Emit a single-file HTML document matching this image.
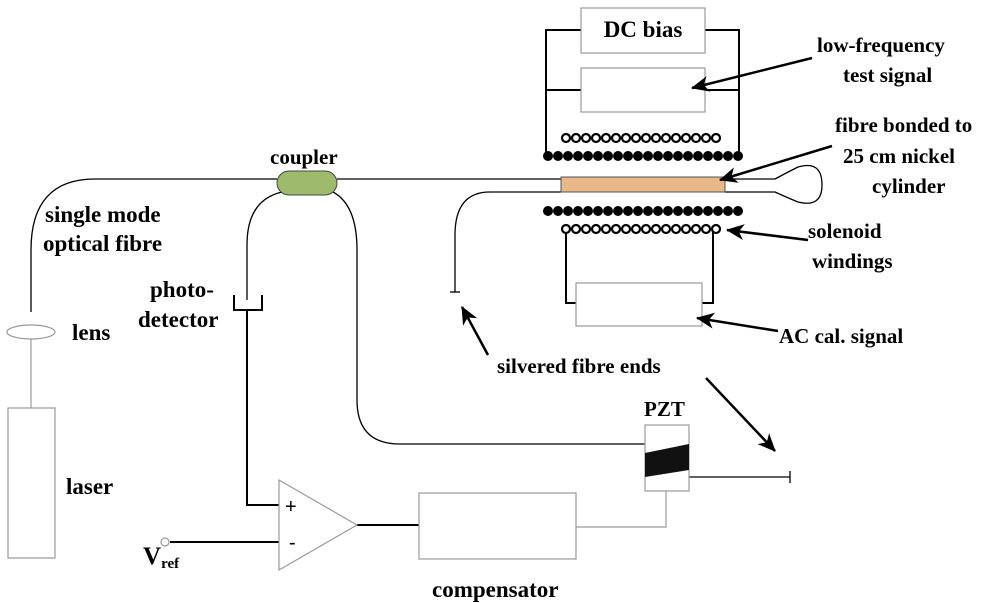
<!DOCTYPE html>
<html><head><meta charset="utf-8"><style>
html,body{margin:0;padding:0;background:#fff;}
svg{display:block;}
text{font-family:"Liberation Serif",serif;font-weight:bold;font-size:21px;fill:#000;}
.b{font-size:23px;}
</style></head><body>
<svg width="1000" height="603" viewBox="0 0 1000 603" xmlns="http://www.w3.org/2000/svg">
<defs>
<marker id="ah2" markerWidth="18" markerHeight="16" refX="17" refY="8" orient="auto" markerUnits="userSpaceOnUse" viewBox="0 0 18 16">
<path d="M0,0 L18,8 L0,16 L5,8 z" fill="#000"/></marker>
</defs>
<g fill="none" stroke="#000" stroke-width="1.3">
<path d="M277,179 L95,179 Q31,179 31,250 L31,312"/>
<path d="M337,179 L561,179"/>
<path d="M282,192 Q247,200 247,245 L247,300"/>
<path d="M333,192 Q357,205 357,250 L357,400 Q357,444 400,444 L645,444"/>
<path d="M561,192 L490,192 Q455,192 455,235 L455,292"/>
<path d="M450,292 L460,292"/>
<path d="M725,179 L775,179 Q788,172 798,167 Q822,160 822,185 Q822,208 798,202 Q788,198 775,192 L725,192"/>
<path d="M645,477 L790,477 M790,471 L790,483"/>
<path d="M234,295 L234,310 L262,310 L262,295" stroke-width="2"/>
<path d="M247,310 L247,505 L280,505" stroke-width="2"/>
<path d="M170,542 L280,542" stroke-width="2"/>
<path d="M357,525 L419,525" stroke-width="2"/>
<path d="M581,30 L546,30 L546,155 M705,30 L739,30 L739,155 M546,90 L581,90 M705,90 L739,90" stroke-width="2"/>
<path d="M566,229 L566,303 L576,303 M713,229 L713,303 L702,303" stroke-width="2"/>
</g>
<g fill="#fff" stroke="#999" stroke-width="1.2">
<rect x="581" y="8" width="124" height="45"/>
<rect x="581" y="68" width="124" height="44"/>
<rect x="576" y="283" width="126" height="43"/>
<ellipse cx="31" cy="332" rx="24" ry="7"/>
<rect x="8" y="408" width="47" height="150"/>
<line x1="31" y1="339" x2="31" y2="408"/>
<polygon points="279,480 279,570 357,525"/>
<rect x="419" y="493" width="157" height="66"/>
<path d="M576,527 L666,527 L666,491" fill="none"/>
<rect x="645" y="425" width="44" height="66"/>
<circle cx="165" cy="542" r="4"/>
</g>
<polygon points="645,453 689,444 689,470 645,477" fill="#111"/>
<rect x="561" y="177" width="164" height="15" fill="#e8b888" stroke="#555" stroke-width="1"/>
<rect x="277" y="171" width="60" height="24" rx="12" fill="#9dbb6a" stroke="#444" stroke-width="1"/>
<g fill="#fff" stroke="#000" stroke-width="2.2">
<circle cx="566" cy="138" r="4"/><circle cx="576" cy="138" r="4"/><circle cx="586" cy="138" r="4"/><circle cx="596" cy="138" r="4"/><circle cx="606" cy="138" r="4"/><circle cx="616" cy="138" r="4"/><circle cx="626" cy="138" r="4"/><circle cx="636" cy="138" r="4"/><circle cx="646" cy="138" r="4"/><circle cx="656" cy="138" r="4"/><circle cx="666" cy="138" r="4"/><circle cx="676" cy="138" r="4"/><circle cx="686" cy="138" r="4"/><circle cx="696" cy="138" r="4"/><circle cx="706" cy="138" r="4"/><circle cx="716" cy="138" r="4"/>
<circle cx="566" cy="229" r="4"/><circle cx="576" cy="229" r="4"/><circle cx="586" cy="229" r="4"/><circle cx="596" cy="229" r="4"/><circle cx="606" cy="229" r="4"/><circle cx="616" cy="229" r="4"/><circle cx="626" cy="229" r="4"/><circle cx="636" cy="229" r="4"/><circle cx="646" cy="229" r="4"/><circle cx="656" cy="229" r="4"/><circle cx="666" cy="229" r="4"/><circle cx="676" cy="229" r="4"/><circle cx="686" cy="229" r="4"/><circle cx="696" cy="229" r="4"/><circle cx="706" cy="229" r="4"/><circle cx="716" cy="229" r="4"/>
</g>
<g fill="#000">
<circle cx="548" cy="156" r="5"/><circle cx="558" cy="156" r="5"/><circle cx="568" cy="156" r="5"/><circle cx="578" cy="156" r="5"/><circle cx="588" cy="156" r="5"/><circle cx="598" cy="156" r="5"/><circle cx="608" cy="156" r="5"/><circle cx="618" cy="156" r="5"/><circle cx="628" cy="156" r="5"/><circle cx="638" cy="156" r="5"/><circle cx="648" cy="156" r="5"/><circle cx="658" cy="156" r="5"/><circle cx="668" cy="156" r="5"/><circle cx="678" cy="156" r="5"/><circle cx="688" cy="156" r="5"/><circle cx="698" cy="156" r="5"/><circle cx="708" cy="156" r="5"/><circle cx="718" cy="156" r="5"/><circle cx="728" cy="156" r="5"/><circle cx="738" cy="156" r="5"/>
<circle cx="548" cy="211" r="5"/><circle cx="558" cy="211" r="5"/><circle cx="568" cy="211" r="5"/><circle cx="578" cy="211" r="5"/><circle cx="588" cy="211" r="5"/><circle cx="598" cy="211" r="5"/><circle cx="608" cy="211" r="5"/><circle cx="618" cy="211" r="5"/><circle cx="628" cy="211" r="5"/><circle cx="638" cy="211" r="5"/><circle cx="648" cy="211" r="5"/><circle cx="658" cy="211" r="5"/><circle cx="668" cy="211" r="5"/><circle cx="678" cy="211" r="5"/><circle cx="688" cy="211" r="5"/><circle cx="698" cy="211" r="5"/><circle cx="708" cy="211" r="5"/><circle cx="718" cy="211" r="5"/><circle cx="728" cy="211" r="5"/><circle cx="738" cy="211" r="5"/>
</g>
<g fill="none" stroke="#000" stroke-width="2.5">
<path d="M812,58 L692,88" marker-end="url(#ah2)"/>
<path d="M832,146 L720,180" marker-end="url(#ah2)"/>
<path d="M808,240 L727,230" marker-end="url(#ah2)"/>
<path d="M778,331 L697,318" marker-end="url(#ah2)"/>
<path d="M488,355 L462,307" marker-end="url(#ah2)"/>
<path d="M706,378 L775,451" marker-end="url(#ah2)"/>
</g>
<text x="643" y="37" text-anchor="middle" class="b">DC bias</text>
<text x="817" y="52">low-frequency</text>
<text x="843" y="82">test signal</text>
<text x="835" y="132">fibre bonded to</text>
<text x="843" y="163">25 cm nickel</text>
<text x="872" y="193">cylinder</text>
<text x="808" y="238">solenoid</text>
<text x="812" y="268">windings</text>
<text x="779" y="343">AC cal. signal</text>
<text x="497" y="373">silvered fibre ends</text>
<text x="644" y="416">PZT</text>
<text x="270" y="164">coupler</text>
<text x="45" y="222" class="b">single mode</text>
<text x="43" y="251" class="b">optical fibre</text>
<text x="150" y="297" class="b">photo-</text>
<text x="138" y="327" class="b">detector</text>
<text x="72" y="340" class="b">lens</text>
<text x="66" y="494" class="b">laser</text>
<text x="432" y="597" class="b">compensator</text>
<text x="143" y="564" style="font-size:25px">V<tspan style="font-size:15px" dy="4">ref</tspan></text>
<text x="285" y="513" style="font-family:'Liberation Sans',sans-serif;font-weight:normal;font-size:20px">+</text>
<text x="289" y="549" style="font-family:'Liberation Sans',sans-serif;font-weight:normal;font-size:20px">-</text>
</svg>
</body></html>
